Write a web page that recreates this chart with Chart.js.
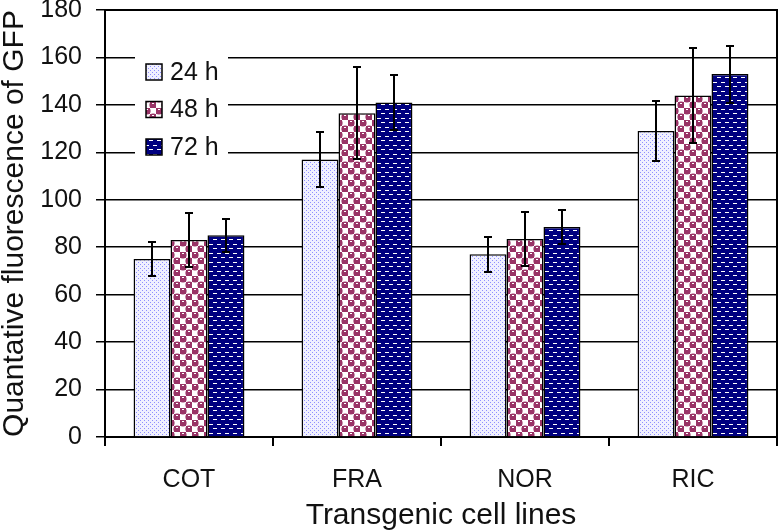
<!DOCTYPE html>
<html>
<head>
<meta charset="utf-8">
<script src="https://cdn.jsdelivr.net/npm/chart.js@4.4.1/dist/chart.umd.min.js"></script>
<style>
  html, body { margin: 0; padding: 0; background: #fff; }
  #wrap { width: 778px; height: 532px; }
</style>
</head>
<body>
<div id="wrap"><canvas id="barChart" width="778" height="532"></canvas></div>
<script>
// data
var cellLines = ['COT', 'FRA', 'NOR', 'RIC'];
var seriesNames = ['24 h', '48 h', '72 h'];
var gfp24 = [75, 117, 77, 129];
var gfp48 = [83, 136.5, 83.5, 144];
var gfp72 = [85, 141, 88.5, 153];
var err24 = [7, 11.5, 7.5, 12.5];
var err48 = [11.5, 19.5, 11.5, 20];
var err72 = [7, 11.5, 7, 12];
var yTicks = [0, 20, 40, 60, 80, 100, 120, 140, 160, 180];

var FONT = "'Liberation Sans', Arial, sans-serif";

function makePattern(w, h, draw) {
  var c = document.createElement('canvas');
  c.width = w; c.height = h;
  var g = c.getContext('2d');
  draw(g);
  return g.createPattern(c, 'repeat');
}

// 24 h : light lavender with periwinkle dots
var pat24 = makePattern(4, 4, function(g) {
  g.fillStyle = '#f0f0ff';
  g.fillRect(0, 0, 4, 4);
  g.fillStyle = '#8f8fff';
  g.fillRect(0, 0, 1, 1);
  g.fillRect(2, 2, 1, 1);
});
// 48 h : maroon checker with white squares
var pat48 = makePattern(12, 12, function(g) {
  g.fillStyle = '#ffffff';
  g.fillRect(0, 0, 12, 12);
  g.fillStyle = '#993366';
  g.fillRect(0, 0, 6, 6);
  g.fillRect(6, 6, 6, 6);
  g.beginPath(); g.arc(3, 3, 3.6, 0, Math.PI * 2); g.fill();
  g.beginPath(); g.arc(9, 9, 3.6, 0, Math.PI * 2); g.fill();
  g.fillStyle = '#ffffff';
  g.fillRect(2, 1, 2, 1);
  g.fillRect(8, 7, 2, 1);
});
// 72 h : navy with white dashes
var pat72 = makePattern(8, 9, function(g) {
  g.fillStyle = '#000080';
  g.fillRect(0, 0, 8, 9);
  g.fillStyle = '#ffffff';
  g.fillRect(1, 1, 4, 1);
  g.fillRect(5, 5, 3, 1);
  g.fillRect(0, 5, 1, 1);
});

var errors = [err24, err48, err72];

var errorBars = {
  id: 'errorBars',
  afterDatasetsDraw: function(chart) {
    var ctx = chart.ctx;
    var y = chart.scales.y;
    ctx.save();
    ctx.strokeStyle = '#000';
    ctx.lineWidth = 2;
    chart.data.datasets.forEach(function(ds, i) {
      var meta = chart.getDatasetMeta(i);
      meta.data.forEach(function(bar, j) {
        var v = ds.data[j], e = errors[i][j];
        var yt = Math.round(y.getPixelForValue(v + e));
        var yb = Math.round(y.getPixelForValue(v - e));
        var x = Math.round(bar.x);
        ctx.beginPath();
        ctx.moveTo(x, yt); ctx.lineTo(x, yb);
        ctx.moveTo(x - 4, yt); ctx.lineTo(x + 4, yt);
        ctx.moveTo(x - 4, yb); ctx.lineTo(x + 4, yb);
        ctx.stroke();
      });
    });
    ctx.restore();
  }
};

var frame = {
  id: 'frame',
  afterDraw: function(chart) {
    var a = chart.chartArea, ctx = chart.ctx;
    ctx.save();
    ctx.strokeStyle = '#000';
    ctx.lineWidth = 2;
    ctx.beginPath();
    ctx.moveTo(a.left, a.top); ctx.lineTo(a.right, a.top);
    ctx.lineTo(a.right, a.bottom);
    ctx.stroke();
    // legend inside the plot
    ctx.fillStyle = '#fff';
    ctx.fillRect(a.left + 30, a.top + 40, 93, 115);
    ctx.font = '25px ' + FONT;
    ctx.textBaseline = 'middle';
    chart.data.datasets.forEach(function(ds, i) {
      var cy = a.top + 62 + i * 37.5;
      ctx.fillStyle = ds.backgroundColor;
      ctx.fillRect(a.left + 41, cy - 8, 16, 16);
      ctx.lineWidth = 1.5;
      ctx.strokeRect(a.left + 41, cy - 8, 16, 16);
      ctx.fillStyle = '#111';
      ctx.fillText(ds.label, a.left + 65, cy + 1);
    });
    ctx.restore();
  }
};

function barSet(label, data, fill) {
  return {
    label: label,
    data: data,
    backgroundColor: fill,
    borderColor: '#000',
    borderWidth: 1.5,
    categoryPercentage: 0.66,
    barPercentage: 1.0
  };
}

var myChart = new Chart(document.getElementById('barChart').getContext('2d'), {
  type: 'bar',
  data: {
    labels: cellLines,
    datasets: [
      barSet(seriesNames[0], gfp24, pat24),
      barSet(seriesNames[1], gfp48, pat48),
      barSet(seriesNames[2], gfp72, pat72)
    ]
  },
  options: {
    responsive: false,
    animation: false,
    layout: { autoPadding: false, padding: { top: 10, right: 1, bottom: 0, left: 0 } },
    plugins: {
      legend: { display: false },
      tooltip: { enabled: false }
    },
    scales: {
      x: {
        offset: true,
        afterFit: function(s) { s.height = 95; },
        grid: { offset: true, drawOnChartArea: false, color: '#000', lineWidth: 2, tickLength: 9 },
        border: { display: true, color: '#000', width: 2 },
        ticks: { color: '#111', padding: 22, font: { family: FONT, size: 25, lineHeight: 1.0 } },
        title: { display: true, text: 'Transgenic cell lines', color: '#111',
                 font: { family: FONT, size: 30, lineHeight: 1.0 }, padding: { top: 0, bottom: 1 } }
      },
      y: {
        min: 0,
        max: 180,
        afterFit: function(s) { s.width = 105; s.paddingTop = 0; s.paddingBottom = 0; },
        afterBuildTicks: function(axis) {
          axis.ticks = yTicks.map(function(v) { return { value: v }; });
        },
        grid: { color: '#000', lineWidth: 1.5, tickLength: 9 },
        border: { display: true, color: '#000', width: 2 },
        ticks: { color: '#111', padding: 14, font: { family: FONT, size: 25 } },
        title: { display: true, text: 'Quantative fluorescence of GFP', color: '#111',
                 font: { family: FONT, size: 30, lineHeight: 1.0 }, padding: { top: 0, bottom: 0 } }
      }
    }
  },
  plugins: [errorBars, frame]
});
</script>
</body>
</html>
